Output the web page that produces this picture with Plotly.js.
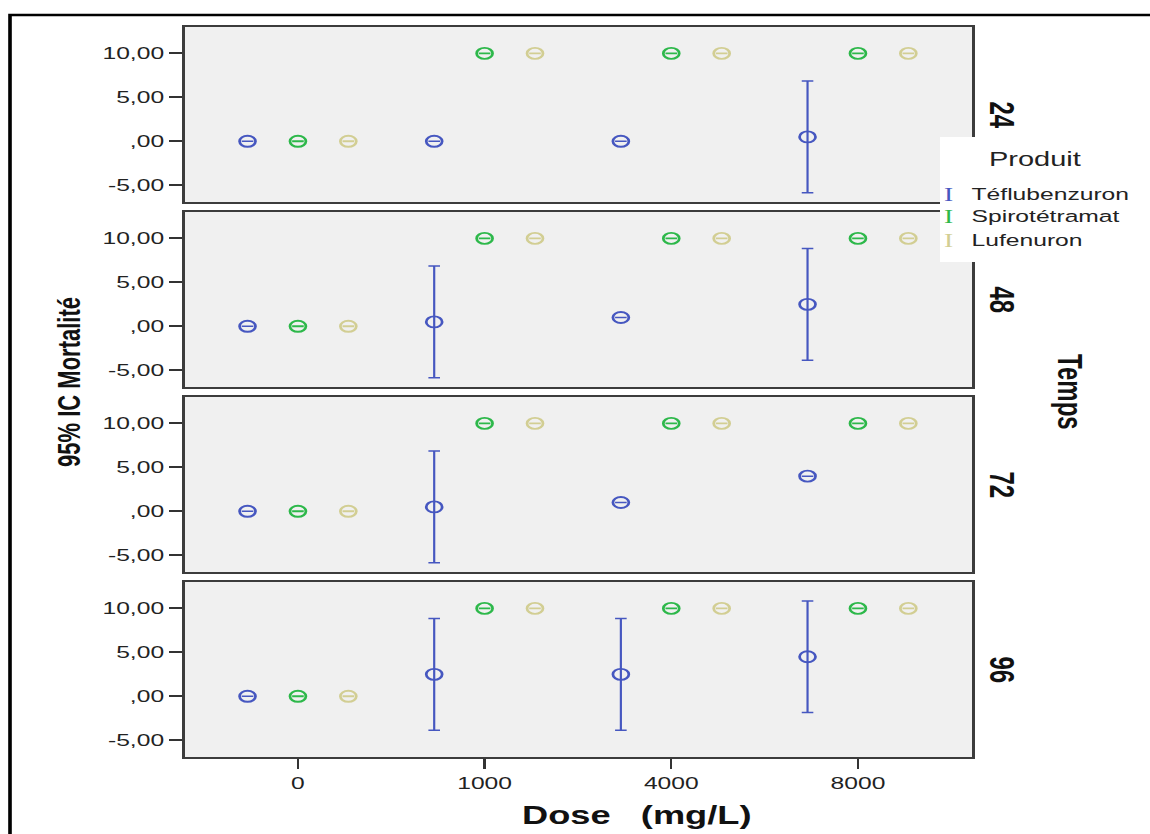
<!DOCTYPE html>
<html><head><meta charset="utf-8">
<script src="https://cdn.plot.ly/plotly-3.0.1.min.js"></script>
<style>
html,body{margin:0;padding:0;background:#fff;overflow:hidden;width:1150px;height:834px}
#chart{width:794px;height:834px;transform:scaleX(1.45);transform-origin:0 0}
</style>
</head><body><div id="chart"></div>
<script>
// ---- data ----
const doses = ['0', '1000', '4000', '8000'];
const times = ['24', '48', '72', '96'];
const products = ['Téflubenzuron', 'Spirotétramat', 'Lufenuron'];
const yTickVals = [-5, 0, 5, 10];
const yTickText = ['-5,00', ',00', '5,00', '10,00'];

// rows = Temps (24, 48, 72, 96), columns = Dose (0, 1000, 4000, 8000)
const teflMean = [[0, 0, 0, 0.5], [0, 0.5, 1, 2.5], [0, 0.5, 1, 4], [0, 2.5, 2.5, 4.5]];
const teflLow  = [[0, 0, 0, -5.85], [0, -5.85, 1, -3.85], [0, -5.85, 1, 4], [0, -3.85, -3.85, -1.85]];
const teflHigh = [[0, 0, 0, 6.85], [0, 6.85, 1, 8.85], [0, 6.85, 1, 4], [0, 8.85, 8.85, 10.85]];
const spiroMean = [[0, 10, 10, 10], [0, 10, 10, 10], [0, 10, 10, 10], [0, 10, 10, 10]];
const spiroLow  = [[0, 10, 10, 10], [0, 10, 10, 10], [0, 10, 10, 10], [0, 10, 10, 10]];
const spiroHigh = [[0, 10, 10, 10], [0, 10, 10, 10], [0, 10, 10, 10], [0, 10, 10, 10]];
const lufMean = [[0, 10, 10, 10], [0, 10, 10, 10], [0, 10, 10, 10], [0, 10, 10, 10]];
const lufLow  = [[0, 10, 10, 10], [0, 10, 10, 10], [0, 10, 10, 10], [0, 10, 10, 10]];
const lufHigh = [[0, 10, 10, 10], [0, 10, 10, 10], [0, 10, 10, 10], [0, 10, 10, 10]];

// ---- styling ----
const colors = ['#4657c0', '#2db84a', '#d2ce93'];
const barWidths = [1.5, 1.9, 1.9];
const offsets = [-0.27, 0, 0.27];
const S = 1.45, W = 794, H = 834, FW = W * S;
const fx = px => px / FW;
const fy = py => 1 - py / H;

const series = [
  {mean: teflMean, low: teflLow, high: teflHigh},
  {mean: spiroMean, low: spiroLow, high: spiroHigh},
  {mean: lufMean, low: lufLow, high: lufHigh}
];

const panelTop = [27, 212, 397, 582];
const panelH = 175;
const traces = [];
const layout = {
  width: W, height: H,
  margin: {l: 0, r: 0, t: 0, b: 0},
  paper_bgcolor: '#ffffff',
  plot_bgcolor: '#f0f0f0',
  showlegend: false,
  font: {family: 'Liberation Sans, Arial, sans-serif', size: 17, color: '#222'},
  shapes: [], annotations: []
};

times.forEach((t, i) => {
  const sfx = i === 0 ? '' : String(i + 1);
  products.forEach((p, k) => {
    const s = series[k];
    traces.push({
      type: 'scatter', mode: 'markers', name: p,
      x: doses.map((d, j) => j + offsets[k]),
      y: s.mean[i],
      xaxis: 'x' + sfx, yaxis: 'y' + sfx,
      marker: {symbol: 'circle-open', size: 11, color: colors[k], line: {width: 1.9, color: colors[k]}},
      error_y: {
        type: 'data', symmetric: false, visible: true,
        array: s.high[i].map((h, j) => h - s.mean[i][j]),
        arrayminus: s.low[i].map((l, j) => s.mean[i][j] - l),
        color: colors[k], thickness: barWidths[k], width: 4
      },
      hoverinfo: 'skip'
    });
  });
  const last = i === times.length - 1;
  layout['xaxis' + sfx] = {
    domain: [fx(185), fx(972)],
    anchor: 'y' + sfx,
    range: [-0.605, 3.611],
    tickvals: [0, 1, 2, 3], ticktext: doses,
    showticklabels: last, ticks: last ? 'outside' : '',
    ticklen: 10, tickwidth: 1.6, tickcolor: '#333',
    showline: true, mirror: true, linecolor: '#3c3c3c', linewidth: 2,
    showgrid: false, zeroline: false,
    tickfont: {size: 17, color: '#222'}
  };
  layout['yaxis' + sfx] = {
    domain: [fy(panelTop[i] + panelH), fy(panelTop[i])],
    anchor: 'x' + sfx,
    range: [-6.9, 13.0],
    tickvals: yTickVals, ticktext: yTickText,
    ticks: 'outside', ticklen: 9, tickwidth: 2, tickcolor: '#333',
    showline: true, mirror: true, linecolor: '#3c3c3c', linewidth: 2,
    showgrid: false, zeroline: false,
    tickfont: {size: 17, color: '#222'}
  };
  layout.annotations.push({
    xref: 'paper', yref: 'paper', x: fx(1002), y: fy(panelTop[i] + panelH / 2),
    text: '<b>' + t + '</b>', textangle: 90, showarrow: false,
    xanchor: 'center', yanchor: 'middle',
    font: {family: 'Liberation Sans, Arial, sans-serif', size: 24, color: '#111'}
  });
});

// outer frame
layout.shapes.push({type: 'rect', xref: 'paper', yref: 'paper',
  x0: fx(10), x1: 1.05, y0: -0.05, y1: fy(15),
  line: {color: '#000', width: 2.5}, fillcolor: 'rgba(0,0,0,0)', layer: 'below'});
// legend box
layout.shapes.push({type: 'rect', xref: 'paper', yref: 'paper',
  x0: fx(940), x1: fx(1145), y0: fy(262), y1: fy(137),
  line: {width: 0}, fillcolor: '#ffffff', layer: 'above'});

layout.annotations.push({xref: 'paper', yref: 'paper', x: fx(1036), y: fy(159),
  text: 'Produit', showarrow: false, xanchor: 'center', yanchor: 'middle',
  font: {size: 20, color: '#222'}});
const legY = [194, 217, 240];
products.forEach((p, k) => {
  layout.annotations.push({xref: 'paper', yref: 'paper', x: fx(949), y: fy(legY[k]),
    text: 'I', showarrow: false, xanchor: 'center', yanchor: 'middle',
    font: {family: 'Liberation Serif, serif', size: 19, color: colors[k]}});
  layout.annotations.push({xref: 'paper', yref: 'paper', x: fx(969), y: fy(legY[k]),
    text: p, showarrow: false, xanchor: 'left', yanchor: 'middle',
    font: {size: 17, color: '#222'}});
});

// axis titles
layout.annotations.push({xref: 'paper', yref: 'paper', x: fx(68), y: fy(382),
  text: '<b>95% IC Mortalité</b>', textangle: -90, showarrow: false,
  xanchor: 'center', yanchor: 'middle',
  font: {size: 22, color: '#111'}});
layout.annotations.push({xref: 'paper', yref: 'paper', x: fx(1070), y: fy(392),
  text: '<b>Temps</b>', textangle: 90, showarrow: false,
  xanchor: 'center', yanchor: 'middle',
  font: {size: 24, color: '#111'}});
layout.annotations.push({xref: 'paper', yref: 'paper', x: fx(637), y: fy(815),
  text: '<b>Dose\u00a0\u00a0\u00a0(mg/L)</b>', showarrow: false,
  xanchor: 'center', yanchor: 'middle',
  font: {size: 25, color: '#111'}});

Plotly.newPlot('chart', traces, layout, {staticPlot: true, displayModeBar: false});
</script>
</body></html>
